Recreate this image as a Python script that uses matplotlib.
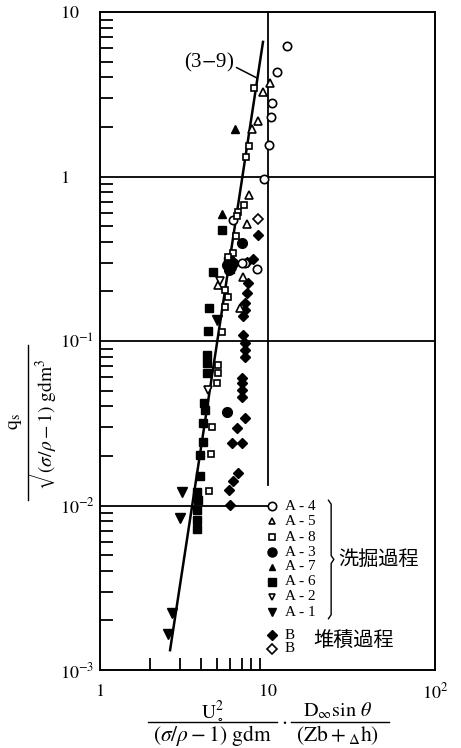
import matplotlib
matplotlib.use("Agg")
import matplotlib.pyplot as plt
from matplotlib.lines import Line2D
from matplotlib.ticker import FixedLocator, FixedFormatter, NullFormatter

plt.rcParams['mathtext.fontset'] = 'stix'
plt.rcParams['font.family'] = ['Liberation Serif', 'Noto Sans CJK JP', 'DejaVu Sans']

# ---------------- data ----------------
a4_x = [13.1, 11.45, 10.59, 10.45, 10.25, 9.57, 6.25, 7.34, 7.02, 8.69]
a4_y = [6.21, 4.34, 2.79, 2.31, 1.55, 0.966, 0.544, 0.299, 0.296, 0.273]

a5_x = [10.35, 9.35, 8.81, 8.05, 7.72, 7.51, 7.17, 6.85, 5.08]
a5_y = [3.69, 3.28, 2.18, 1.94, 0.773, 0.514, 0.246, 0.158, 0.219]

a8_x = [8.30, 7.78, 7.47, 7.24, 6.70, 6.62, 6.48, 6.25, 5.78, 5.57, 5.83, 5.57,
        5.37, 5.08, 5.08, 4.97, 4.64, 4.57, 4.49]
a8_y = [3.43, 1.53, 1.32, 0.671, 0.611, 0.578, 0.436, 0.341, 0.325, 0.204, 0.186,
        0.160, 0.113, 0.0715, 0.0636, 0.0553, 0.0302, 0.0206, 0.0122]

a3_x = [7.02, 5.97, 5.71, 6.25, 5.87, 6.05, 5.71]
a3_y = [0.394, 0.311, 0.290, 0.300, 0.270, 0.282, 0.0372]

a7_x = [6.40, 5.33, 5.90]
a7_y = [1.94, 0.593, 0.285]

a6_x = [5.35, 4.70, 4.50, 4.43, 4.34, 4.34, 4.34, 4.18, 4.24, 4.10, 4.10, 3.95,
        3.95, 3.80, 3.85, 3.81, 3.81, 3.81, 5.80, 6.00]
a6_y = [0.473, 0.264, 0.158, 0.115, 0.0822, 0.0732, 0.0636, 0.0418, 0.0381, 0.0316,
        0.0244, 0.0203, 0.0151, 0.0121, 0.0108, 0.0094, 0.0082, 0.0072, 0.305, 0.275]

a2_x = [5.20, 4.43]
a2_y = [0.232, 0.0504]

a1_x = [4.97, 3.07, 3.00, 2.70, 2.56]
a1_y = [0.134, 0.0121, 0.0084, 0.00223, 0.00165]

bf_x = [8.73, 8.23, 7.51, 7.68, 7.51, 7.34, 7.37, 7.10, 7.17, 7.34, 7.34, 7.34,
        7.06, 7.06, 7.06, 7.06, 7.34, 6.55, 6.12, 7.02, 6.70, 6.25, 5.91, 5.97]
bf_y = [0.441, 0.314, 0.302, 0.224, 0.195, 0.171, 0.154, 0.141, 0.109, 0.0968,
        0.0881, 0.0803, 0.0593, 0.0553, 0.0504, 0.0459, 0.0339, 0.0295, 0.0239,
        0.0239, 0.0158, 0.0141, 0.0125, 0.0101]

bo_x = [8.81]
bo_y = [0.553]

fit_x = [2.62, 9.40]
fit_y = [0.00132, 6.58]

series_labels = ['A - 4', 'A - 5', 'A - 8', 'A - 3', 'A - 7', 'A - 6', 'A - 2', 'A - 1', 'B', 'B']
group_labels = ['洗掘過程', '堆積過程']
x_ticks = [1, 10, 100]
x_ticklabels = ['$1$', '$10$', '$10^2$']
y_ticks = [1e-3, 1e-2, 1e-1, 1, 10]
y_ticklabels = ['$10^{-3}$', '$10^{-2}$', '$10^{-1}$', '$1$', '$10$']

# ---------------- figure ----------------
W, H = 461, 748
fig = plt.figure(figsize=(W/100, H/100), dpi=100)
ax = fig.add_axes([100/W, 1-670/H, 335/W, 658/H])
ax.set_xscale('log')
ax.set_yscale('log')
ax.set_xlim(1, 100)
ax.set_ylim(1e-3, 10)

for s in ax.spines.values():
    s.set_linewidth(1.4)

# reference lines
ax.axhline(1, color='black', lw=1.3, zorder=1)
ax.axhline(0.1, color='black', lw=1.3, zorder=1)
ax.plot([1, 10.59], [0.01, 0.01], color='black', lw=1.3, zorder=1)
ax.plot([10, 10], [0.0133, 10], color='black', lw=1.3, zorder=1)

# fitted line (3-9)
ax.plot(fit_x, fit_y, color='black', lw=1.8, zorder=2)
ax.annotate('(3$-$9)', xy=(8.65, 3.97), xytext=(4.45, 4.95), fontsize=15,
            ha='center', va='center',
            arrowprops=dict(arrowstyle='-', color='black', lw=1.1,
                            shrinkA=0, shrinkB=0, relpos=(1.03, 0.3)))

open_kw = dict(mfc='white', mec='black', mew=1.2, ls='none', zorder=4)
fill_kw = dict(mfc='black', mec='black', ls='none', zorder=3)

ax.plot(a4_x, a4_y, marker='o', ms=6, **open_kw)
ax.plot(a5_x, a5_y, marker='^', ms=5.5, **open_kw)
ax.plot(a8_x, a8_y, marker='s', ms=5, **open_kw)
ax.plot(a3_x, a3_y, marker='o', ms=7, **fill_kw)
ax.plot(a7_x, a7_y, marker='^', ms=6, **fill_kw)
ax.plot(a6_x, a6_y, marker='s', ms=6, **fill_kw)
ax.plot(a2_x, a2_y, marker='v', ms=5.5, **open_kw)
ax.plot(a1_x, a1_y, marker='v', ms=6.5, **fill_kw)
ax.plot(bf_x, bf_y, marker='D', ms=5.5, **fill_kw)
ax.plot(bo_x, bo_y, marker='D', ms=5.5, **open_kw)

# ticks
ax.xaxis.set_major_locator(FixedLocator(x_ticks))
ax.xaxis.set_major_formatter(FixedFormatter(x_ticklabels))
ax.xaxis.set_minor_locator(FixedLocator([2, 3, 4, 5, 6, 7, 8, 9]))
ax.xaxis.set_minor_formatter(NullFormatter())
ax.yaxis.set_major_locator(FixedLocator(y_ticks))
ax.yaxis.set_major_formatter(FixedFormatter(y_ticklabels))
ymin = [m * d for d in [1e-3, 1e-2, 1e-1, 1] for m in range(2, 10)]
ax.yaxis.set_minor_locator(FixedLocator(ymin))
ax.yaxis.set_minor_formatter(NullFormatter())
ax.tick_params(axis='both', which='major', length=0, labelsize=13)
ax.tick_params(axis='x', which='major', pad=9)
ax.tick_params(axis='y', which='major', pad=29)
ax.tick_params(axis='both', which='minor', direction='in', length=9, width=1.3)
for lab in ax.get_yticklabels():
    lab.set_ha('left')

# legend (manual)
leg_y = [0.249, 0.226, 0.202, 0.179, 0.157, 0.134, 0.111, 0.088, 0.053, 0.032]
leg_m = [('o', 6, True), ('^', 5, True), ('s', 4.5, True), ('o', 6.5, False),
         ('^', 5, False), ('s', 5.5, False), ('v', 5, True), ('v', 5.5, False),
         ('D', 5.5, False), ('D', 5, True)]
for yy, (m, ms, hollow), lab in zip(leg_y, leg_m, series_labels):
    kw = open_kw if hollow else fill_kw
    kw = dict(kw); kw['zorder'] = 5
    ax.plot([0.5125], [yy], marker=m, ms=ms, transform=ax.transAxes, clip_on=False, **kw)
    ax.text(0.552, yy, lab, transform=ax.transAxes, fontsize=11, ha='left', va='center')

# brace
bx = 0.682
top, bot = 0.258, 0.078
mid = (top + bot) / 2
w = 0.008
bxs = [bx, bx + w, bx + w, bx + 2*w, bx + w, bx + w, bx]
bys = [top, top - 0.006, mid + 0.006, mid, mid - 0.006, bot + 0.006, bot]
ax.plot(bxs, bys, color='black', lw=1.0, transform=ax.transAxes, clip_on=False)
ax.text(0.712, mid, group_labels[0], transform=ax.transAxes, fontsize=14.5,
        family=['Noto Sans CJK JP'], ha='left', va='center')
ax.text(0.636, 0.043, group_labels[1], transform=ax.transAxes, fontsize=14.5,
        family=['Noto Sans CJK JP'], ha='left', va='center')

# axis labels (built from pieces, in figure pixel positions)
def px(x, y):
    return x / W, 1 - y / H

def bar(x0, y0, x1, y1):
    (a, b), (c, d) = px(x0, y0), px(x1, y1)
    fig.add_artist(Line2D([a, c], [b, d], color='black', lw=1.0,
                          transform=fig.transFigure))

# y label
fig.text(*px(15, 422), r'$\mathrm{q_s}$', rotation=90, ha='center', va='center', fontsize=14)
bar(28, 345, 28, 500)
fig.text(*px(43, 422), r'$\sqrt{(\sigma/\rho-1)\ \mathrm{gdm}^3}$', rotation=90,
         ha='center', va='center', fontsize=14)

# x label
fig.text(*px(212, 711), r'$\mathrm{U_\circ^2}$', ha='center', va='center', fontsize=14)
bar(148, 722, 277, 722)
fig.text(*px(212, 735), r'$(\sigma/\rho-1)\ \mathrm{gdm}$', ha='center', va='center', fontsize=15.5)
fig.text(*px(284, 722), r'$\cdot$', ha='center', va='center', fontsize=15)
fig.text(*px(338, 711), r'$\mathrm{D_\infty sin}\ \theta$', ha='center', va='center', fontsize=14.5)
bar(291, 722, 389, 722)
fig.text(*px(338, 735), r'$(\mathrm{Zb}+{}_{\Delta}\mathrm{h})$', ha='center', va='center', fontsize=15.5)

fig.savefig('out.png', dpi=100)
